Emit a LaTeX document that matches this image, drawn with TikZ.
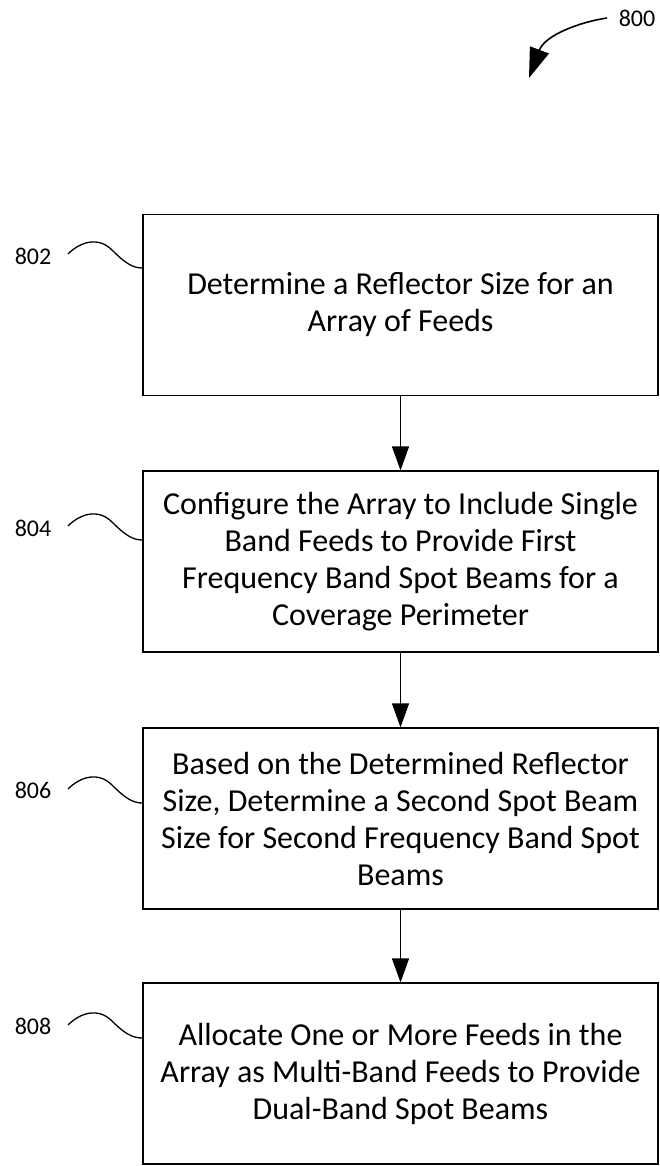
\documentclass[tikz,border=0pt]{standalone}
\usepackage{fontspec}
\setmainfont{Carlito}
\usetikzlibrary{arrows.meta}
\begin{document}
\begin{tikzpicture}[x=1pt,y=-1pt,
  stepbox/.style={draw=black,line width=1.3pt,minimum width=515pt,minimum height=181pt,
    align=center,font=\fontsize{32}{37}\selectfont,inner sep=0pt},
  reflabel/.style={font=\fontsize{24}{28}\selectfont,inner sep=0pt},
  flow/.style={line width=1.3pt,-{Triangle[length=24pt,width=17pt]}},
  squig/.style={line width=1.3pt}]
\useasboundingbox (0,0) rectangle (660,1166);
\node[stepbox] (b1) at (400.5,305) {Determine a Reflector Size for an\\Array of Feeds};
\node[stepbox] (b2) at (400.5,561.5) {Configure the Array to Include Single\\Band Feeds to Provide First\\Frequency Band Spot Beams for a\\Coverage Perimeter};
\node[stepbox] (b3) at (400.5,818.5) {Based on the Determined Reflector\\Size, Determine a Second Spot Beam\\Size for Second Frequency Band Spot\\Beams};
\node[stepbox] (b4) at (400.5,1073.5) {Allocate One or More Feeds in the\\Array as Multi-Band Feeds to Provide\\Dual-Band Spot Beams};
\draw[flow] (b1.south) -- (b2.north);
\draw[flow] (b2.south) -- (b3.north);
\draw[flow] (b3.south) -- (b4.north);
% reference labels
\node[reflabel] (l802) at (33,256) {802};
\node[reflabel] (l804) at (33,528) {804};
\node[reflabel] (l806) at (33,790) {806};
\node[reflabel] (l808) at (33,1026) {808};
\path (b1.west) ++(0,-37) coordinate (s1);
\path (b2.west) ++(0,-21.5) coordinate (s2);
\path (b3.west) ++(0,-15.5) coordinate (s3);
\path (b4.west) ++(0,-35.5) coordinate (s4);
\draw[squig] (68,254) .. controls (80,242) and (98,236) .. (112,250) .. controls (124,262) and (132,268) .. (s1);
\draw[squig] (68,526) .. controls (80,514) and (98,508) .. (112,522) .. controls (124,534) and (132,540) .. (s2);
\draw[squig] (68,789) .. controls (80,777) and (98,771) .. (112,785) .. controls (124,797) and (132,803) .. (s3);
\draw[squig] (68,1025) .. controls (80,1013) and (98,1007) .. (112,1021) .. controls (124,1033) and (132,1038) .. (s4);
% figure number
\node[reflabel] (l800) at (637,18) {800};
\coordinate (a800s) at (607,18);
\coordinate (a800e) at (529,78);
\draw[line width=1.6pt,-{Triangle[length=30pt,width=20pt]}] (a800s) .. controls (580,22) and (545,35) .. (a800e);
\end{tikzpicture}
\end{document}
